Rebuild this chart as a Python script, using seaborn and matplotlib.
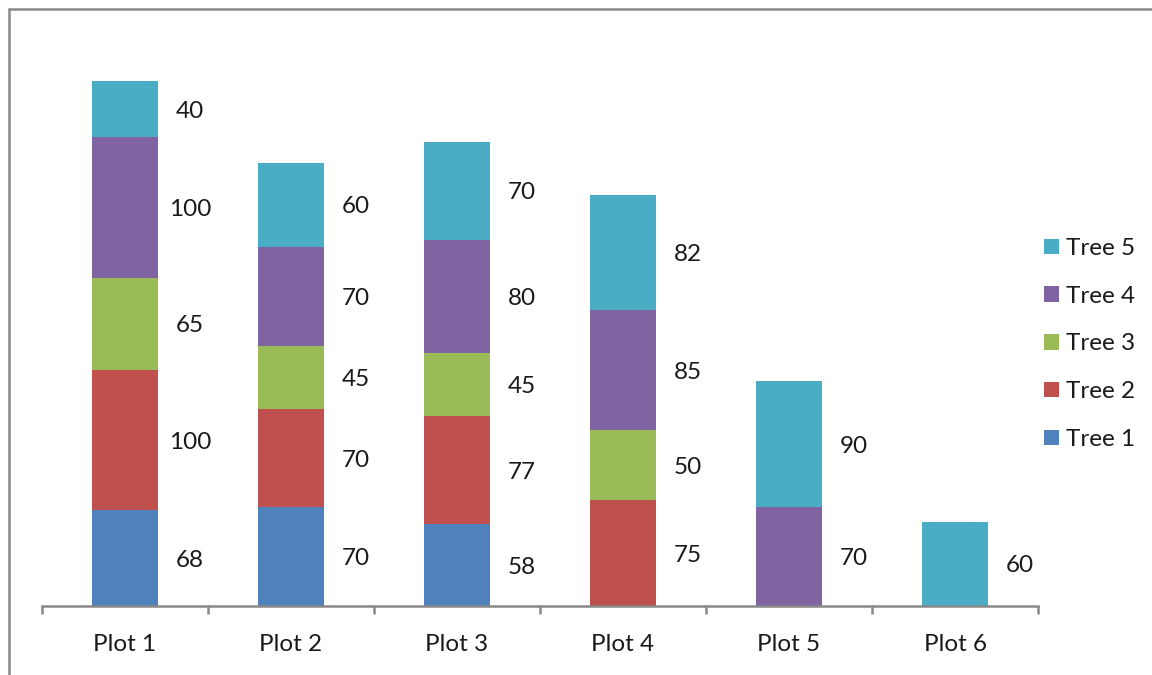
import numpy as np
import pandas as pd
import seaborn as sns
import matplotlib
matplotlib.use("Agg")
import matplotlib.pyplot as plt
from matplotlib.patches import Patch
from matplotlib.lines import Line2D

# Tree counts per plot
plots = ["Plot 1", "Plot 2", "Plot 3", "Plot 4", "Plot 5", "Plot 6"]
trees = ["Tree 1", "Tree 2", "Tree 3", "Tree 4", "Tree 5"]
tree1 = [68, 70, 58, 0, 0, 0]
tree2 = [100, 70, 77, 75, 0, 0]
tree3 = [65, 45, 45, 50, 0, 0]
tree4 = [100, 70, 80, 85, 70, 0]
tree5 = [40, 60, 70, 82, 90, 60]
colors = ["#4F81BD", "#C0504D", "#9BBB59", "#8064A2", "#4BACC6"]

series = [tree1, tree2, tree3, tree4, tree5]
rows = []
for t, vals in zip(trees, series):
    for i, v in enumerate(vals):
        if v > 0:
            rows.append({"pos": i, "plot": plots[i], "tree": t, "count": v})
df = pd.DataFrame(rows)

sns.set_theme(style="white")
plt.rcParams["font.family"] = ["Lato", "DejaVu Sans"]
FS = 17.5
TXT = "#1a1a1a"

fig = plt.figure(figsize=(11.52, 6.75), dpi=100)
ax = fig.add_axes([42 / 1152, 69 / 675, 996 / 1152, 563 / 675])

# seaborn stacks hue levels in reverse order, so list the top tree first
sns.histplot(
    data=df, x="pos", hue="tree", weights="count",
    hue_order=trees[::-1], palette=colors[::-1],
    multiple="stack", discrete=True, shrink=0.4,
    linewidth=0, alpha=1, legend=False, ax=ax,
)

ax.set_xlim(-0.5, len(plots) - 0.5)
ax.set_ylim(0, 400)
ax.set_xlabel("")
ax.set_ylabel("")
ax.set_yticks([])
for s in ["top", "right", "left"]:
    ax.spines[s].set_visible(False)
ax.spines["bottom"].set_color("#888888")
ax.spines["bottom"].set_linewidth(1.8)

ax.set_xticks(range(len(plots)))
ax.set_xticklabels(plots, fontsize=FS, color=TXT)
ax.set_xticks(np.arange(-0.5, len(plots)), minor=True)
ax.tick_params(axis="x", which="both", bottom=True)
ax.tick_params(axis="x", which="major", length=0, pad=20)
ax.tick_params(axis="x", which="minor", length=6, width=1.8,
               color="#888888", direction="out")

# value labels beside each segment
for i in range(len(plots)):
    base = 0
    for vals in series:
        v = vals[i]
        if v > 0:
            ax.text(i + 0.39, base + v / 2 - 1.5, f"{v}", ha="center",
                    va="center", fontsize=FS, color=TXT)
        base += v

handles = [Patch(facecolor=c, edgecolor="none") for c in colors[::-1]]
fig.legend(handles, trees[::-1], loc="center left",
           bbox_to_anchor=(1044 / 1152, 1 - 344 / 675), frameon=False,
           fontsize=FS, labelcolor=TXT, handlelength=0.6, handleheight=0.6,
           handletextpad=0.3, labelspacing=1.1, borderpad=0,
           borderaxespad=0)

# chart border (top and left edges)
fig.add_artist(Line2D([8.5 / 1152, 8.5 / 1152], [0, 1 - 8.5 / 675],
                      color="#888888", lw=1.8, transform=fig.transFigure))
fig.add_artist(Line2D([8.5 / 1152, 1], [1 - 8.5 / 675, 1 - 8.5 / 675],
                      color="#888888", lw=1.8, transform=fig.transFigure))

fig.savefig("out.png", dpi=100)
